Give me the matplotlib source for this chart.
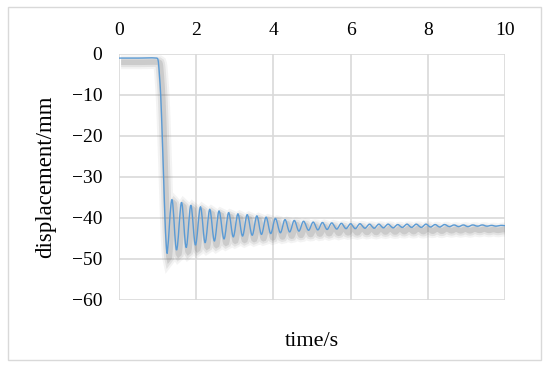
import matplotlib.pyplot as plt
import matplotlib.patheffects as pe
from matplotlib.patches import Rectangle, PathPatch
from matplotlib.path import Path

# time (s) and displacement (mm): flat start, drop, then peaks/troughs
t = [0.0, 0.5, 0.97, 1.01, 1.03, 1.05, 1.08, 1.12, 1.155, 1.19, 1.22, 1.25,
     1.37, 1.49, 1.62, 1.74, 1.86, 1.98, 2.11, 2.23, 2.35, 2.47, 2.59, 2.72,
     2.84, 2.96, 3.08, 3.20, 3.32, 3.45, 3.57, 3.69, 3.81, 3.93, 4.05, 4.18,
     4.30, 4.42, 4.54, 4.66, 4.78, 4.91, 5.03, 5.15, 5.27, 5.39, 5.51, 5.64,
     5.76, 5.88, 6.00, 6.12, 6.24, 6.37, 6.49, 6.61, 6.73, 6.85, 6.97, 7.10,
     7.22, 7.34, 7.46, 7.58, 7.70, 7.83, 7.95, 8.07, 8.19, 8.31, 8.43, 8.56,
     8.68, 8.80, 8.92, 9.04, 9.16, 9.29, 9.41, 9.53, 9.65, 9.77, 9.89, 10.0]
disp = [-1.0, -1.0, -1.0, -1.4, -3.0, -5.5, -10.0, -20.0, -30.0, -40.0, -46.0, -48.5,
        -35.5, -47.8, -36.2, -47.2, -36.9, -46.6, -37.3, -46.0, -37.9, -45.6, -38.3, -45.1,
        -38.7, -44.6, -39.0, -44.4, -39.2, -44.2, -39.5, -44.0, -39.8, -43.8, -40.1, -43.6,
        -40.4, -43.4, -40.6, -43.2, -40.8, -43.0, -41.0, -42.9, -41.1, -42.8, -41.2, -42.7,
        -41.3, -42.6, -41.4, -42.6, -41.4, -42.5, -41.5, -42.5, -41.5, -42.4, -41.5, -42.4,
        -41.6, -42.3, -41.5, -42.3, -41.5, -42.3, -41.5, -42.2, -41.6, -42.2, -41.6, -42.1,
        -41.7, -42.1, -41.7, -42.1, -41.7, -42.0, -41.7, -42.0, -41.8, -42.0, -41.8, -41.9]

xticks = [0, 2, 4, 6, 8, 10]
yticks = [0, -10, -20, -30, -40, -50, -60]

plt.rcParams['font.family'] = ['Liberation Serif', 'DejaVu Serif']
plt.rcParams['font.size'] = 14

fig = plt.figure(figsize=(5.5, 3.67), dpi=100)
fig.patches.append(Rectangle((8 / 550, 1 - 360 / 367), 533 / 550, 353 / 367,
                             transform=fig.transFigure, fill=False,
                             edgecolor='#d9d9d9', linewidth=1))
ax = fig.add_axes([0.2164, 0.1826, 0.7018, 0.6703])

# smoothed line like excel: catmull-rom tangents -> cubic bezier segments
n = len(t)
verts = [(t[0], disp[0])]
codes = [Path.MOVETO]
for i in range(n - 1):
    a = max(i - 1, 0)
    b = min(i + 2, n - 1)
    h = t[i + 1] - t[i]
    m0 = (disp[i + 1] - disp[a]) / (t[i + 1] - t[a])
    m1 = (disp[b] - disp[i]) / (t[b] - t[i])
    verts += [(t[i] + h / 3, disp[i] + m0 * h / 3),
              (t[i + 1] - h / 3, disp[i + 1] - m1 * h / 3),
              (t[i + 1], disp[i + 1])]
    codes += [Path.CURVE4] * 3

shadow = [pe.SimpleLineShadow(offset=(1.5, -3), shadow_color='#707070', alpha=a, linewidth=w)
          for w, a in ((10, 0.08), (7, 0.13), (4, 0.2))]
line = PathPatch(Path(verts, codes), fill=False, edgecolor='#5b9bd5', linewidth=1.0,
                 path_effects=shadow + [pe.Normal()], zorder=3)
ax.add_patch(line)

ax.set_xlim(0, 10)
ax.set_ylim(-60, 0)
ax.set_xticks(xticks)
ax.set_yticks(yticks)
ax.xaxis.tick_top()
ax.tick_params(length=0)
ax.tick_params(axis='x', pad=11)
ax.tick_params(axis='y', pad=12)
ax.grid(True, color='#d9d9d9', linewidth=1.2)
for s in ax.spines.values():
    s.set_visible(False)
ax.set_xlabel('time/s', fontsize=16)
ax.xaxis.set_label_position('bottom')
ax.xaxis.labelpad = 23
ax.set_ylabel('displacement/mm', fontsize=16.5, labelpad=11)

fig.savefig('out.png', dpi=100)
